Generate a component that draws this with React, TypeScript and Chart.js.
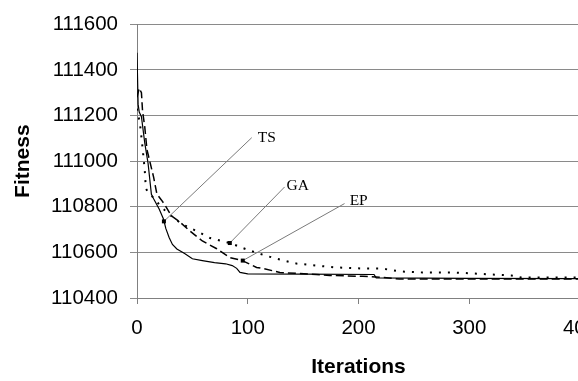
import React, { useEffect, useRef } from 'react';
import { Chart, registerables } from 'chart.js';

Chart.register(...registerables);

// Tick values
const xTickValues = [0, 100, 200, 300, 400];
const yTickValues = [110400, 110600, 110800, 111000, 111200, 111400, 111600];

// TS (solid)
const tsIter = [0, 1, 2, 4, 7, 10, 12, 13, 15, 20, 24, 26, 29, 32, 36, 43, 50, 59, 70, 80, 86, 90, 93, 100, 150, 214, 216, 300, 400];
const tsFit = [111475, 111250, 111215, 111195, 111080, 110990, 110900, 110855, 110835, 110790, 110745, 110705, 110665, 110635, 110615, 110595, 110572, 110564, 110555, 110550, 110542, 110530, 110512, 110506, 110505, 110503, 110488, 110486, 110485];

// GA (dotted)
const gaIter = [0, 2, 3, 5, 7, 8, 11, 15, 20, 27, 32, 41, 54, 66, 84, 95, 108, 126, 144, 162, 180, 204, 221, 239, 258, 285, 302, 320, 338, 347, 384, 400];
const gaFit = [111230, 111180, 111150, 111060, 110960, 110880, 110855, 110840, 110810, 110775, 110755, 110723, 110693, 110663, 110641, 110620, 110598, 110572, 110551, 110542, 110534, 110529, 110529, 110516, 110512, 110512, 110508, 110503, 110499, 110490, 110490, 110490];

// EP (dashed)
const epIter = [0, 2, 4, 5, 7, 9, 12, 15, 18, 22, 25, 31, 38, 48, 59, 72, 84, 95, 108, 114, 129, 144, 162, 174, 204, 223, 237, 300, 400];
const epFit = [111280, 111320, 111300, 111220, 111150, 111050, 110990, 110930, 110855, 110830, 110810, 110760, 110736, 110693, 110650, 110616, 110577, 110564, 110534, 110529, 110512, 110508, 110503, 110499, 110495, 110490, 110483, 110483, 110483];

// Leader-line annotations (data units)
const annLabels = ['TS', 'GA', 'EP'];
const annTextIter = [109, 135, 192];
const annTextFit = [111103, 110891, 110825];
const annStartIter = [103.6, 133.3, 187.4];
const annStartFit = [111103, 110887, 110814];
const annTargetIter = [24.3, 83.8, 95.5];
const annTargetFit = [110736, 110641, 110564];

const sans = '"Liberation Sans", Arial, Helvetica, sans-serif';
const serif = '"Liberation Serif", "Times New Roman", Times, serif';

function pts(xs: number[], ys: number[]) {
  return xs.map((x, i) => ({ x, y: ys[i] }));
}

export default function App() {
  const ref = useRef<HTMLCanvasElement>(null);

  useEffect(() => {
    if (!ref.current) return;
    const leaders = {
      id: 'leaders',
      afterDatasetsDraw(chart: any) {
        const { ctx } = chart;
        const xs = chart.scales.x;
        const ys = chart.scales.y;
        ctx.save();
        for (let i = 0; i < annLabels.length; i++) {
          const sx = xs.getPixelForValue(annStartIter[i]);
          const sy = ys.getPixelForValue(annStartFit[i]);
          const tx = xs.getPixelForValue(annTargetIter[i]);
          const ty = ys.getPixelForValue(annTargetFit[i]);
          ctx.strokeStyle = '#7a7a7a';
          ctx.lineWidth = 1;
          ctx.setLineDash([]);
          ctx.beginPath();
          ctx.moveTo(sx, sy);
          ctx.lineTo(tx, ty);
          ctx.stroke();
          ctx.fillStyle = '#000';
          ctx.fillRect(tx - 2, ty - 2, 4, 4);
          ctx.font = '15.5px ' + serif;
          ctx.textAlign = 'left';
          ctx.textBaseline = 'middle';
          ctx.fillText(annLabels[i], xs.getPixelForValue(annTextIter[i]), ys.getPixelForValue(annTextFit[i]));
        }
        ctx.restore();
      },
    };

    const chart = new Chart(ref.current, {
      type: 'line',
      data: {
        datasets: [
          {
            label: 'TS',
            data: pts(tsIter, tsFit),
            borderColor: '#000',
            borderWidth: 1.2,
            pointRadius: 0,
            tension: 0,
          },
          {
            label: 'GA',
            data: pts(gaIter, gaFit),
            borderColor: '#000',
            borderWidth: 2,
            borderDash: [2, 7],
            pointRadius: 0,
            tension: 0,
          },
          {
            label: 'EP',
            data: pts(epIter, epFit),
            borderColor: '#000',
            borderWidth: 1.5,
            borderDash: [8, 4],
            pointRadius: 0,
            tension: 0,
          },
        ],
      },
      options: {
        responsive: false,
        animation: false,
        devicePixelRatio: 1,
        layout: { padding: { left: 0, top: 19.5, right: 40, bottom: 0 } },
        plugins: { legend: { display: false }, tooltip: { enabled: false } },
        scales: {
          x: {
            type: 'linear',
            min: 0,
            max: 400,
            afterFit: (s: any) => { s.height = 83; },
            afterBuildTicks: (s: any) => { s.ticks = xTickValues.map((v) => ({ value: v })); },
            ticks: {
              callback: (v: any) => String(v),
              color: '#000',
              font: { family: sans, size: 20.5 },
              padding: 12,
              maxRotation: 0,
            },
            grid: { drawOnChartArea: false, drawTicks: true, tickLength: 6, color: '#808080' },
            border: { display: true, color: '#808080' },
            title: {
              display: true,
              text: 'Iterations',
              color: '#000',
              font: { family: sans, size: 21, weight: 'bold' },
              padding: { top: 0, bottom: 1 },
            },
          },
          y: {
            type: 'linear',
            min: 110400,
            max: 111600,
            afterFit: (s: any) => { s.width = 137; },
            afterBuildTicks: (s: any) => { s.ticks = yTickValues.map((v) => ({ value: v })); },
            ticks: {
              callback: (v: any) => String(v),
              color: '#000',
              font: { family: sans, size: 20.5 },
              padding: 12,
            },
            grid: { drawTicks: true, tickLength: 7, color: '#8a8a8a', lineWidth: 1 },
            border: { display: true, color: '#808080' },
            title: {
              display: true,
              text: 'Fitness',
              color: '#000',
              font: { family: sans, size: 21, weight: 'bold' },
              padding: { top: 11, bottom: 0 },
            },
          },
        },
      },
      plugins: [leaders],
    } as any);
    return () => chart.destroy();
  }, []);

  return (
    <div style={{ position: 'fixed', left: 0, top: 0, width: 620, height: 381, background: '#fff' }}>
      <canvas ref={ref} width={620} height={381} style={{ display: 'block' }} />
    </div>
  );
}
